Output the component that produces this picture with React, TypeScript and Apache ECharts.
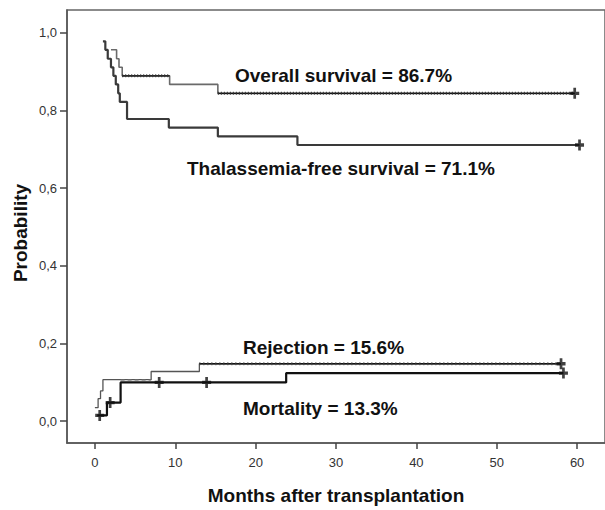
import React, { useEffect, useRef } from "react";
import * as echarts from "echarts";

// ---- data ----
const xTicks = [0, 10, 20, 30, 40, 50, 60];
const xTickLabels = ["0", "10", "20", "30", "40", "50", "60"];
const yTicks = [0, 0.2, 0.4, 0.6, 0.8, 1.0];
const yTickLabels = ["0,0", "0,2", "0,4", "0,6", "0,8", "1,0"];

// Overall survival (months, probability)
const overallT = [2.0, 2.7, 3.0, 3.4, 9.3, 15.3, 59.7];
const overallS = [0.956, 0.933, 0.911, 0.889, 0.867, 0.844, 0.844];
// Thalassemia-free survival
const thalT = [1.0, 1.3, 1.6, 2.0, 2.3, 2.6, 2.9, 3.1, 4.0, 9.2, 15.3, 25.2, 60.3];
const thalS = [0.978, 0.956, 0.933, 0.911, 0.889, 0.867, 0.844, 0.822, 0.778, 0.756, 0.733, 0.711, 0.711];
// Rejection (cumulative incidence)
const rejT = [0.0, 0.4, 0.7, 1.0, 7.0, 13.0, 58.0];
const rejS = [0.035, 0.058, 0.078, 0.107, 0.128, 0.148, 0.148];
// Mortality (cumulative incidence)
const morT = [0.3, 1.5, 3.2, 23.8, 58.3];
const morS = [0.015, 0.048, 0.1, 0.124, 0.124];

// segments drawn with the dotted (censored) texture
const overallDotA = [[3.4, 0.889], [9.3, 0.889]];
const overallDotB = [[15.3, 0.844], [59.7, 0.844]];
const rejDash = [[3.2, 0.107], [7.0, 0.107]];
const rejDot = [[13.0, 0.148], [58.0, 0.148]];

// censor marks
const overallCensor = [[59.7, 0.844]];
const thalCensor = [[60.3, 0.711]];
const rejCensor = [[58.0, 0.148]];
const morCensor = [[0.6, 0.015], [1.9, 0.048], [8.0, 0.1], [13.9, 0.1], [58.3, 0.124]];

const labels = [
  { text: "Overall survival = 86.7%", x: 235, y: 75 },
  { text: "Thalassemia-free survival = 71.1%", x: 187, y: 168 },
  { text: "Rejection = 15.6%", x: 243, y: 347 },
  { text: "Mortality = 13.3%", x: 243, y: 408 },
];

const zip = (t: number[], s: number[]) => t.map((v, i) => [v, s[i]]);
const PLUS = "path://M3.5,0 H6.5 V3.5 H10 V6.5 H6.5 V10 H3.5 V6.5 H0 V3.5 H3.5 Z";
const FONT = "'Liberation Sans', Arial, sans-serif";

export default function App() {
  const ref = useRef<HTMLDivElement>(null);
  useEffect(() => {
    if (!ref.current) return;
    const chart = echarts.init(ref.current, null, { renderer: "svg" });
    const lineS = (data: number[][], color: string, width: number, type: any = "solid", z = 2) => ({
      type: "line",
      data,
      step: "end",
      symbol: "none",
      silent: true,
      z,
      lineStyle: { color, width, type },
    });
    const plus = (data: number[][], size: number[]) => ({
      type: "scatter",
      data,
      symbol: PLUS,
      symbolSize: size,
      itemStyle: { color: "#111" },
      silent: true,
      z: 5,
    });
    chart.setOption({
      animation: false,
      backgroundColor: "#fff",
      grid: {
        left: 67,
        top: 10,
        width: 540,
        height: 438,
        show: true,
        borderColor: "#666",
        borderWidth: 1.5,
      },
      xAxis: {
        type: "value",
        min: -3.47,
        max: 63.47,
        splitLine: { show: false },
        axisLine: { show: true, onZero: false, lineStyle: { color: "#555", width: 1.5 } },
        axisTick: { show: true, customValues: xTicks, length: 6, lineStyle: { color: "#444", width: 1.5 } },
        axisLabel: {
          customValues: xTicks,
          formatter: (v: number) => xTickLabels[xTicks.indexOf(Math.round(v))] ?? "",
          color: "#333",
          fontSize: 13,
          fontFamily: FONT,
          margin: 13,
        },
        name: "Months after transplantation",
        nameLocation: "middle",
        nameGap: 43,
        nameTextStyle: { color: "#111", fontSize: 19, fontWeight: "bold", fontFamily: FONT },
      },
      yAxis: {
        type: "value",
        min: -0.056,
        max: 1.0585,
        splitLine: { show: false },
        axisLine: { show: true, onZero: false, lineStyle: { color: "#555", width: 1.5 } },
        axisTick: { show: true, customValues: yTicks, length: 7, lineStyle: { color: "#444", width: 1.5 } },
        axisLabel: {
          customValues: yTicks,
          formatter: (v: number) => {
            const i = yTicks.findIndex((t) => Math.abs(t - v) < 1e-6);
            return i >= 0 ? yTickLabels[i] : "";
          },
          color: "#333",
          fontSize: 13,
          fontFamily: FONT,
          margin: 10,
        },
      },
      graphic: [
        {
          type: "text",
          x: 20,
          y: 233,
          rotation: Math.PI / 2,
          style: {
            text: "Probability",
            fill: "#111",
            font: `bold 19px ${FONT}`,
            align: "center",
            verticalAlign: "middle",
          },
        },
        ...labels.map((l) => ({
          type: "text",
          x: l.x,
          y: l.y,
          style: {
            text: l.text,
            fill: "#111",
            font: `bold 19px ${FONT}`,
            align: "left",
            verticalAlign: "middle",
          },
        })),
      ],
      series: [
        lineS(zip(thalT, thalS), "#3a3a3a", 2.2),
        lineS(zip(overallT, overallS), "#6a6a6a", 1.6),
        lineS(overallDotA, "#111", 1.4, "solid", 3),
        lineS(overallDotA, "#333", 3, [1, 2], 3),
        lineS(overallDotB, "#111", 1.4, "solid", 3),
        lineS(overallDotB, "#333", 3, [1, 2], 3),
        lineS(zip(rejT, rejS), "#555", 1.3),
        lineS(zip(morT, morS), "#111", 2.2),
        lineS(rejDash, "#666", 1.5, [4, 3], 4),
        lineS(rejDot, "#111", 1.3, "solid", 3),
        lineS(rejDot, "#444", 3, [1, 3], 3),
        plus(overallCensor, [9, 11]),
        plus(thalCensor, [9, 11]),
        plus(rejCensor, [9, 11]),
        plus(morCensor, [9, 11]),
      ],
    });
    return () => chart.dispose();
  }, []);
  return <div ref={ref} style={{ position: "absolute", left: 0, top: 0, width: 605, height: 510 }} />;
}
